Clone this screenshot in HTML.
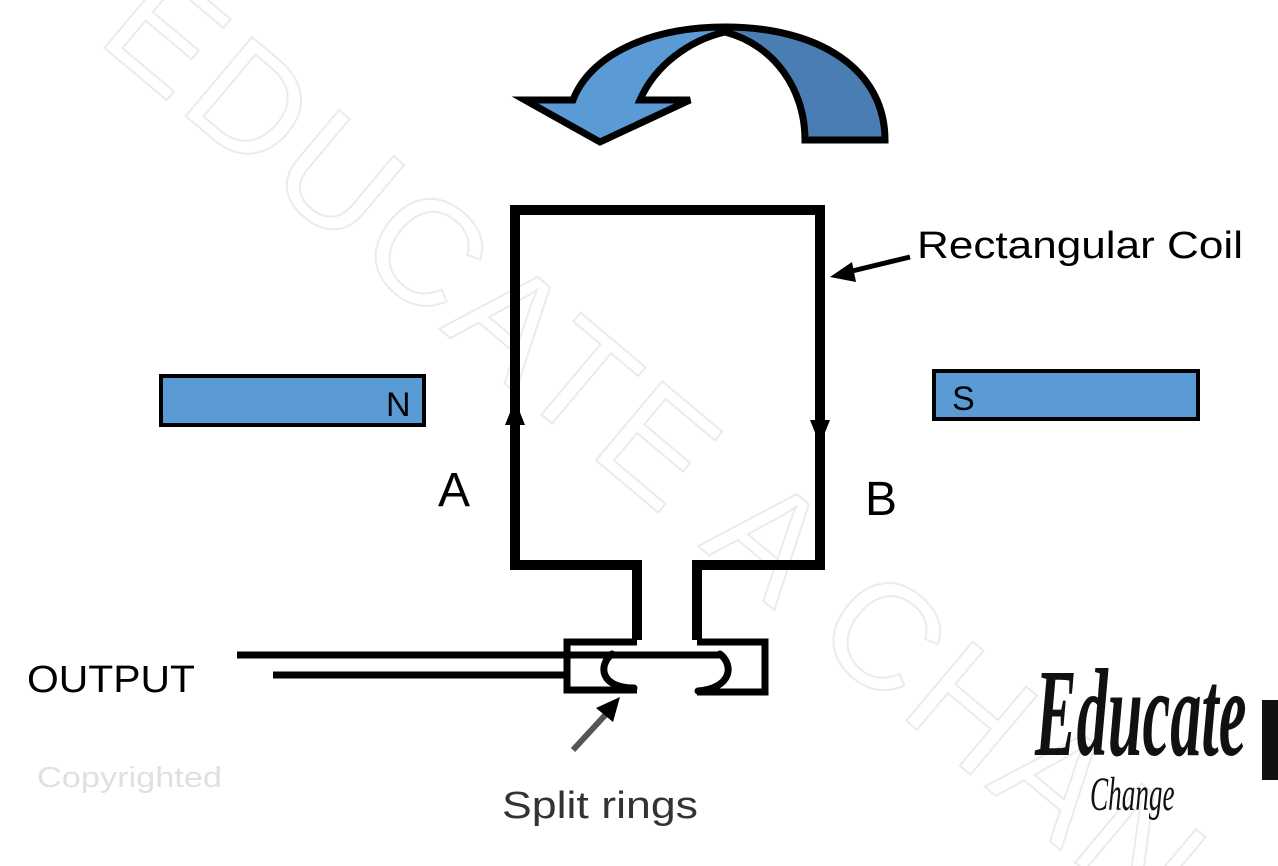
<!DOCTYPE html>
<html><head><meta charset="utf-8"><style>
html,body{margin:0;padding:0;background:#fff;width:1278px;height:866px;overflow:hidden;}
svg{display:block;}
</style></head><body>
<svg width="1278" height="866" viewBox="0 0 1278 866" xmlns="http://www.w3.org/2000/svg" style="overflow:hidden">
<!-- watermark -->
<text x="0" y="0" transform="translate(95,40) rotate(40)" font-family="Liberation Sans, sans-serif" font-size="150" fill="none" stroke="#ebebeb" stroke-width="2" letter-spacing="6">EDUCATE A CHANGE</text>

<!-- curved arrow -->
<path d="M725,27 C650,27 590,55 573,100 L525,100 L600,142 L690,100 L640,100 C655,65 690,40 725,32 Z" fill="#5b9bd5" stroke="#000" stroke-width="7" stroke-linejoin="miter"/>
<path d="M725,32 C775,45 805,90 805,140 L885,140 C885,70 820,27 725,27 Z" fill="#4a7db3" stroke="#000" stroke-width="7"/>

<!-- coil -->
<path d="M637,640 L637,565 L515,565 L515,210 L820,210 L820,565 L697,565 L697,640" fill="none" stroke="#000" stroke-width="10" stroke-linejoin="miter"/>
<polygon points="515,400 505,425 525,425" fill="#000"/>
<polygon points="820,445 810,420 830,420" fill="#000"/>

<!-- split ring boxes -->
<path d="M637,642 L567,642 L567,690 L637,690" fill="none" stroke="#000" stroke-width="7"/>
<path d="M697,642 L765,642 L765,692 L697,692" fill="none" stroke="#000" stroke-width="7"/>
<path d="M612,654 C598,665 600,688 634,688" fill="none" stroke="#000" stroke-width="7" stroke-linecap="round"/>
<path d="M720,654 C734,665 732,688 698,691" fill="none" stroke="#000" stroke-width="7" stroke-linecap="round"/>
<!-- output lines -->
<line x1="237" y1="655" x2="720" y2="655" stroke="#000" stroke-width="7"/>
<line x1="273" y1="675" x2="567" y2="675" stroke="#000" stroke-width="7"/>

<!-- magnets -->
<rect x="161" y="376" width="263" height="49" fill="#5b9bd5" stroke="#000" stroke-width="4"/>
<text x="386" y="416" font-family="Liberation Sans, sans-serif" font-size="34" fill="#000">N</text>
<rect x="934" y="371" width="264" height="48" fill="#5b9bd5" stroke="#000" stroke-width="4"/>
<text x="952" y="410" font-family="Liberation Sans, sans-serif" font-size="34" fill="#000">S</text>

<!-- labels -->
<text x="438" y="506" font-family="Liberation Sans, sans-serif" font-size="48" fill="#000">A</text>
<text x="865" y="515" font-family="Liberation Sans, sans-serif" font-size="48" fill="#000">B</text>
<text x="917" y="258" font-family="Liberation Sans, sans-serif" font-size="38" fill="#000" textLength="326" lengthAdjust="spacingAndGlyphs">Rectangular Coil</text>
<line x1="910" y1="257" x2="848" y2="272" stroke="#000" stroke-width="5"/>
<polygon points="830,277 852,262 856,282" fill="#000"/>
<text x="27" y="692" font-family="Liberation Sans, sans-serif" font-size="38" fill="#000" textLength="168" lengthAdjust="spacingAndGlyphs">OUTPUT</text>
<text x="502" y="818" font-family="Liberation Sans, sans-serif" font-size="38" fill="#333" textLength="196" lengthAdjust="spacingAndGlyphs">Split rings</text>
<line x1="573" y1="750" x2="608" y2="712" stroke="#555" stroke-width="6"/>
<polygon points="620,697 596,708 613,722" fill="#000"/>
<text x="37" y="787" font-family="Liberation Sans, sans-serif" font-size="29" fill="#e0e0e0" textLength="185" lengthAdjust="spacingAndGlyphs">Copyrighted</text>

<!-- logo -->
<text x="0" y="0" transform="translate(1035,755) scale(0.8,1.6)" font-family="Liberation Serif, serif" font-style="italic" font-weight="bold" font-size="78" fill="#111">Educate</text>
<text x="0" y="0" transform="translate(1090,810) scale(0.8,1.4)" font-family="Liberation Serif, serif" font-style="italic" font-size="34" fill="#111">Change</text>
<rect x="1262" y="700" width="16" height="80" fill="#111"/>
</svg>
</body></html>
